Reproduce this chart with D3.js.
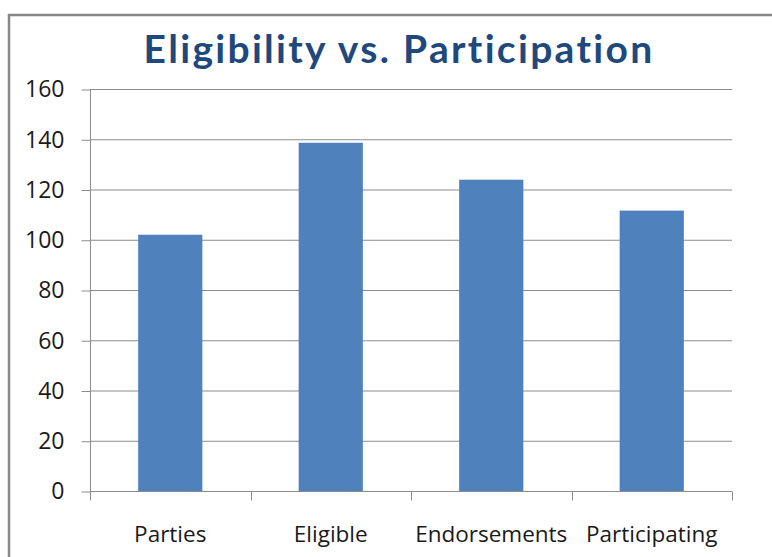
<!DOCTYPE html>
<html>
<head>
<meta charset="utf-8">
<script src="https://cdn.jsdelivr.net/npm/d3@7"></script>
<style>
  body { margin: 0; background: #fff; }
  svg { display: block; }
</style>
</head>
<body>
<div id="chart"></div>
<script>
var svgWidth = 772;
var svgHeight = 557;

// chart data
var categories = ["Parties", "Eligible", "Endorsements", "Participating"];
var counts = [102, 138.6, 123.9, 111.6];
var yTicks = [0, 20, 40, 60, 80, 100, 120, 140, 160];

var margin = { top: 89, right: 40, bottom: 66, left: 90 };
var chartWidth = 732 - margin.left;
var chartHeight = 491 - margin.top;

var svg = d3.select("#chart").append("svg")
    .attr("width", svgWidth)
    .attr("height", svgHeight);

// frame (left + top edges only visible)
svg.append("line")
    .attr("x1", 9).attr("x2", 9).attr("y1", 14).attr("y2", svgHeight)
    .attr("stroke", "#888").attr("stroke-width", 2.5);
svg.append("line")
    .attr("x1", 8).attr("x2", svgWidth).attr("y1", 15).attr("y2", 15)
    .attr("stroke", "#888").attr("stroke-width", 2.5);

svg.append("text")
    .attr("x", 399)
    .attr("y", 63)
    .attr("text-anchor", "middle")
    .style("font-family", "Lato, 'Open Sans', sans-serif")
    .style("font-weight", "bold")
    .style("font-size", "39px")
    .style("letter-spacing", "2.3px")
    .attr("fill", "#1F497D")
    .text("Eligibility vs. Participation");

var chartGroup = svg.append("g")
    .attr("transform", `translate(${margin.left}, ${margin.top})`);

var xScale = d3.scaleBand()
    .domain(categories)
    .range([0, chartWidth])
    .paddingInner(0.6)
    .paddingOuter(0.3);

var yScale = d3.scaleLinear()
    .domain([0, 160])
    .range([chartHeight, 0]);

// gridlines
chartGroup.selectAll(".grid")
    .data(yTicks.filter(d => d > 0))
    .enter()
    .append("line")
    .attr("x1", 0)
    .attr("x2", chartWidth)
    .attr("y1", d => yScale(d) + 0.5)
    .attr("y2", d => yScale(d) + 0.5)
    .attr("stroke", "#8c8c8c")
    .attr("stroke-width", 1);

// bars
chartGroup.selectAll("rect")
    .data(counts)
    .enter()
    .append("rect")
    .attr("x", (d, i) => xScale(categories[i]))
    .attr("y", d => yScale(d))
    .attr("width", xScale.bandwidth())
    .attr("height", d => chartHeight - yScale(d))
    .attr("fill", "#4F81BD");

// y axis
var yAxis = chartGroup.append("g")
    .attr("transform", "translate(0.5, 0.5)")
    .call(d3.axisLeft(yScale).tickValues(yTicks).tickSize(9).tickPadding(17));
yAxis.select(".domain").attr("d", `M0,${chartHeight}V0`);

// x axis with boundary ticks between categories
var xAxis = chartGroup.append("g")
    .attr("transform", `translate(0, ${chartHeight + 0.5})`);
xAxis.append("line")
    .attr("x1", 0).attr("x2", chartWidth)
    .attr("stroke", "#8c8c8c");
var step = chartWidth / categories.length;
xAxis.selectAll(".bound")
    .data(d3.range(categories.length + 1))
    .enter()
    .append("line")
    .attr("x1", d => Math.round(d * step) + 0.5)
    .attr("x2", d => Math.round(d * step) + 0.5)
    .attr("y1", 0).attr("y2", 9)
    .attr("stroke", "#8c8c8c");
xAxis.selectAll(".cat")
    .data(categories)
    .enter()
    .append("text")
    .attr("x", d => xScale(d) + xScale.bandwidth() / 2)
    .attr("y", 50)
    .attr("text-anchor", "middle")
    .style("font-family", "'Open Sans', sans-serif")
    .style("font-size", "22.5px")
    .attr("fill", "#1a1a1a")
    .text(d => d);

yAxis.selectAll("line").attr("stroke", "#8c8c8c");
yAxis.select(".domain").attr("stroke", "#8c8c8c");
yAxis.selectAll("text")
    .style("font-family", "'Open Sans', sans-serif")
    .style("font-size", "23px")
    .attr("fill", "#1a1a1a");
</script>
</body>
</html>
